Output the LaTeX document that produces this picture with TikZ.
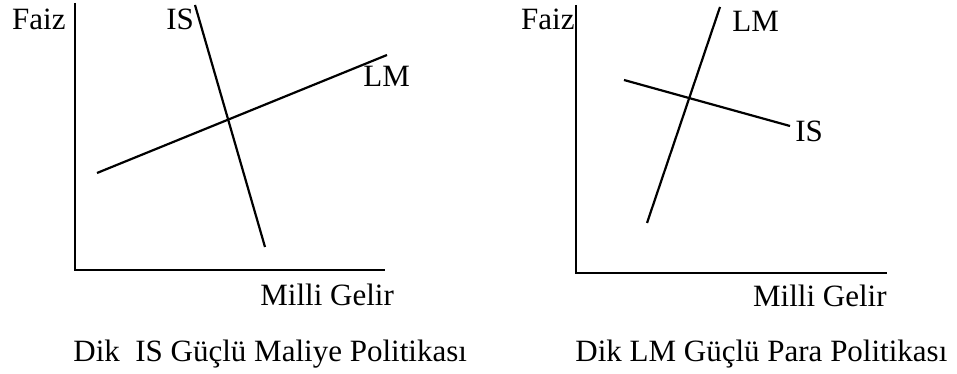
\documentclass[tikz,border=0pt]{standalone}
\usepackage{fontspec}
\setmainfont{Liberation Serif}
\begin{document}
\begin{tikzpicture}[x=0.5pt,y=0.5pt,
    axis/.style={line width=0.8pt},
    curve/.style={line width=1.1pt},
    lbl/.style={inner sep=0pt,font=\fontsize{15.5}{18}\selectfont}]
    \useasboundingbox (0,0) rectangle (957,374);
    % left panel: steep IS
    \coordinate (ya) at (75,371); \coordinate (oa) at (75,104); \coordinate (xa) at (385,104);
    \draw[axis] (ya)--(oa)--(xa);
    \coordinate (isa1) at (195,369); \coordinate (isa2) at (265,127);
    \coordinate (lma1) at (97,201); \coordinate (lma2) at (387,319);
    \draw[curve] (isa1)--(isa2); \draw[curve] (lma1)--(lma2);
    \node[lbl,anchor=base east] (faiza) at (66,344) {Faiz};
    \node[lbl,anchor=base west] (isa) at (166,344) {IS};
    \node[lbl,anchor=base west] (lma) at (363,287) {LM};
    \node[lbl,anchor=base west] (gelira) at (260,68) {Milli Gelir};
    \node[lbl,anchor=base west] (capa) at (73,12) {Dik\ \ IS Güçlü Maliye Politikası};
    % right panel: steep LM
    \coordinate (yb) at (576,369); \coordinate (ob) at (576,101); \coordinate (xb) at (887,101);
    \draw[axis] (yb)--(ob)--(xb);
    \coordinate (lmb1) at (647,151); \coordinate (lmb2) at (720,367);
    \coordinate (isb1) at (624,294); \coordinate (isb2) at (790,248);
    \draw[curve] (lmb1)--(lmb2); \draw[curve] (isb1)--(isb2);
    \node[lbl,anchor=base east] (faizb) at (575,344) {Faiz};
    \node[lbl,anchor=base west] (lmb) at (732,342) {LM};
    \node[lbl,anchor=base west] (isb) at (795,232) {IS};
    \node[lbl,anchor=base east] (gelirb) at (887,67) {Milli Gelir};
    \node[lbl,anchor=base west] (capb) at (575,12) {Dik LM Güçlü Para Politikası};
\end{tikzpicture}
\end{document}
